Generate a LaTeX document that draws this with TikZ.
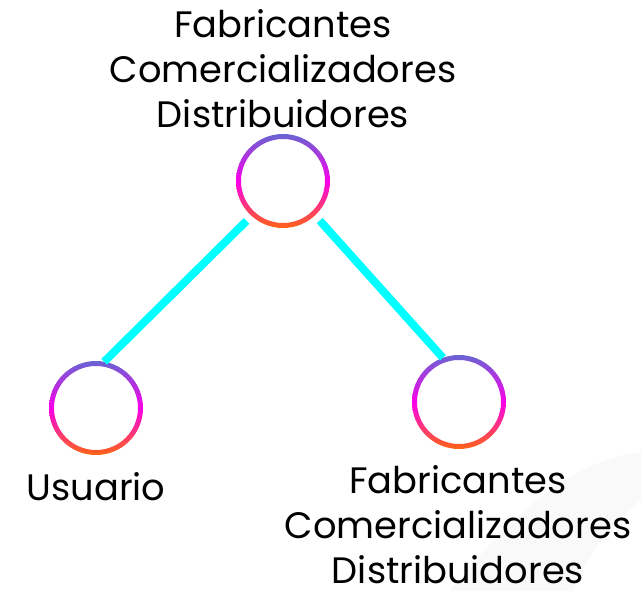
\documentclass[tikz,border=0pt]{standalone}
\usepackage{fontspec}
\setmainfont{Poppins}
\definecolor{ringtop}{RGB}{105,100,210}
\definecolor{ringmid}{RGB}{250,0,235}
\definecolor{ringbot}{RGB}{255,100,20}
\definecolor{swoosh}{RGB}{249,249,249}
\definecolor{linkcyan}{RGB}{0,255,255}
\pgfdeclareverticalshading{ringshade}{100bp}{color(0bp)=(ringbot); color(25bp)=(ringbot); color(50bp)=(ringmid); color(75bp)=(ringtop); color(100bp)=(ringtop)}
\newcommand{\ringat}[1]{\shade[shading=ringshade,even odd rule] (#1.center) circle (47pt) (#1.center) circle (42pt);}
\tikzset{
  x=1pt,y=-1pt,
  ringnode/.style={circle,minimum size=94pt,inner sep=0pt,outer sep=0pt},
  conn/.style={draw=linkcyan,line width=8pt,shorten <=7pt},
  lbl/.style={align=center,text=black,font=\fontsize{36.8}{45}\selectfont,inner sep=0pt}
}
\begin{document}
\begin{tikzpicture}
\useasboundingbox (0,0) rectangle (641,591);
\fill[swoosh] (641,452) .. controls (590,458) and (530,490) .. (450,591) -- (573,591) .. controls (590,550) and (610,525) .. (641,500) -- cycle;
\node[ringnode] (top) at (283,181) {};
\node[ringnode] (left) at (96,408) {};
\node[ringnode] (right) at (459,402) {};
\ringat{top}\ringat{left}\ringat{right}
\draw[conn] (top.228) -- (left.80);
\draw[conn] (top.-47) -- (right.110);
\node[lbl] (ltop) at (283,69) {Fabricantes\\Comercializadores\\Distribuidores};
\node[lbl] (lleft) at (96,487) {Usuario};
\node[lbl] (lright) at (458,525) {Fabricantes\\Comercializadores\\Distribuidores};
\end{tikzpicture}
\end{document}
